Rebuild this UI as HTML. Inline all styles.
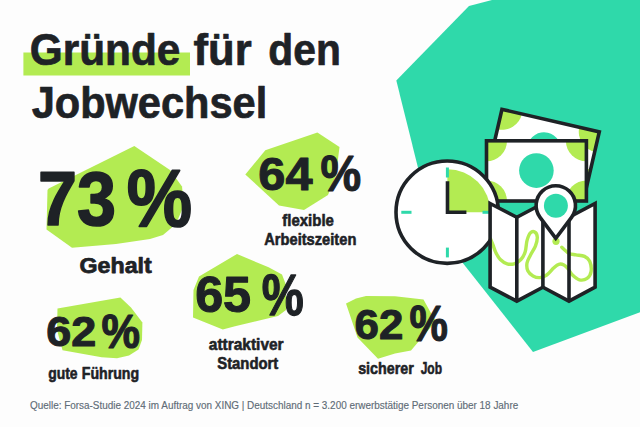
<!DOCTYPE html>
<html lang="de">
<head>
<meta charset="utf-8">
<title>Gründe für den Jobwechsel</title>
<style>
  html, body { margin: 0; padding: 0; background: #fdfdfd; }
  body { width: 640px; height: 427px; overflow: hidden; position: relative; }
  svg { position: absolute; left: 0; top: 0; display: block; }
  text { font-family: "Liberation Sans", Arial, sans-serif; font-weight: bold; fill: #1e2226; stroke: #1e2226; stroke-width: 0; stroke-linejoin: round; }
  text.foot { font-weight: normal; fill: #5f6c77; stroke: #5f6c77; }
</style>
</head>
<body>
<svg width="640" height="427" viewBox="0 0 640 427">
  <rect x="0" y="0" width="640" height="427" fill="#fdfdfd"/>
  <defs>
    <clipPath id="cbBack"><rect x="1.8" y="1.8" width="99.9" height="59"/></clipPath>
    <clipPath id="cbFront"><rect x="486.5" y="140.8" width="99.9" height="60.2"/></clipPath>
  </defs>
  <!-- teal background shape -->
  <polygon points="492,0 469,6 396.3,80.5 432,224 533,352 640,312.3 640,0" fill="#2fd9aa"/>
  <!-- title highlight -->
  <rect x="23.4" y="52.5" width="166.6" height="23" fill="#b3eb52"/>
  <!-- blobs -->
  <g fill="#b3eb52">
    <polygon points="134.3,145.9 170,170 182,186.4 184,205 176,224 163,235 150,239 116,244 72,247.7 46.5,229.4 47.5,190 48.7,188.5"/>
    <polygon points="317.4,132.4 339.5,147.1 336,175 328,195 304,210 279,205.5 245.3,174.5 265.3,150.3"/>
    <polygon points="57.5,308.4 120.4,297.4 131,307.5 142.4,322.5 142,340 138.5,349.5 129,355.5 117,358.2 101.6,357.3 62.5,350.3 57,330"/>
    <polygon points="237,254.1 268.6,267.3 282,274.5 286,285 286,310 278,316 235,326.3 222.8,329.6 193,317.4 193.5,290 199,276.6"/>
    <polygon points="346,303.5 356,298.5 366,296 395,296.3 423.5,299.5 432,315 436,321 411,350.5 395,353.5 378,358.8 357.5,337.4"/>
  </g>
  <!-- illustration -->
  <g stroke="#1e2226" stroke-width="3.6" stroke-linejoin="miter">
    <g transform="translate(500.6,107.2) rotate(13)">
      <rect x="1.8" y="1.8" width="99.9" height="59" fill="#ffffff" stroke="none"/>
      <g clip-path="url(#cbBack)" stroke="none">
        <circle cx="1.8" cy="1.8" r="20.5" fill="#b3eb52"/>
        <circle cx="101.7" cy="1.8" r="20.5" fill="#b3eb52"/>
        <circle cx="1.8" cy="60.8" r="20.5" fill="#b3eb52"/>
        <circle cx="101.7" cy="60.8" r="20.5" fill="#b3eb52"/>
        <circle cx="51.75" cy="31.3" r="17" fill="#2fd9aa"/>
      </g>
      <rect x="1.8" y="1.8" width="99.9" height="59" fill="none"/>
    </g>
    <rect x="486.5" y="140.8" width="99.9" height="60.2" fill="#ffffff" stroke="none"/>
    <g clip-path="url(#cbFront)" stroke="none">
      <circle cx="486.5" cy="140.8" r="20.5" fill="#b3eb52"/>
      <circle cx="586.4" cy="140.8" r="20.5" fill="#b3eb52"/>
      <circle cx="486.5" cy="201" r="20.5" fill="#b3eb52"/>
      <circle cx="586.4" cy="201" r="20.5" fill="#b3eb52"/>
      <circle cx="536.4" cy="170.6" r="17.3" fill="#2fd9aa"/>
    </g>
    <rect x="486.5" y="140.8" width="99.9" height="60.2" fill="none"/>
    <circle cx="447.2" cy="212.2" r="51.2" fill="#ffffff"/>
    <path d="M447.4,212.2 L447.4,169.2 A43,43 0 0 1 490.4,212.2 Z" fill="#b3eb52" stroke="none"/>
    <g stroke="#2fd9aa" stroke-width="3">
      <line x1="447.4" y1="167.5" x2="447.4" y2="177.5"/>
      <line x1="447.4" y1="247.6" x2="447.4" y2="257.4"/>
      <line x1="401.3" y1="212.3" x2="411.5" y2="212.3"/>
      <line x1="482.5" y1="212.3" x2="489" y2="212.3"/>
    </g>
    <polyline points="447.5,181.2 447.5,212.3 466.4,212.3" fill="none"/>
    <polygon points="490.1,203.5 516.8,217.3 542.9,203.5 569,217.3 595.1,203.5 595.1,287.2 569,301.2 542.9,287.2 516.8,301.2 490.1,287.2" fill="#ffffff" stroke="none"/>
    <path d="M490.5,239.0 C490.9,240.0 492.1,242.8 493.0,245.0 C493.9,247.2 494.6,250.1 495.8,252.5 C497.0,254.9 498.4,257.6 500.3,259.5 C502.2,261.4 504.9,263.1 507.2,263.8 C509.5,264.5 511.8,264.5 514.1,263.8 C516.4,263.1 519.0,261.5 520.9,259.5 C522.8,257.5 524.2,255.0 525.2,251.8 C526.2,248.7 526.1,243.8 527.0,240.6 C527.9,237.4 529.1,234.3 530.4,232.9 C531.7,231.5 533.6,231.3 534.7,232.0 C535.9,232.7 537.2,234.9 537.3,237.2 C537.4,239.5 536.6,242.8 535.5,245.8 C534.4,248.8 531.8,252.3 530.4,255.2 C529.0,258.1 527.4,260.4 527.0,263.0 C526.6,265.6 526.8,268.6 527.8,270.7 C528.8,272.8 531.0,274.8 533.0,275.9 C535.0,277.0 537.5,277.8 539.8,277.6 C542.1,277.5 544.4,276.6 546.7,275.0 C549.0,273.4 551.6,269.9 553.6,268.1 C555.6,266.3 557.0,264.8 558.8,264.3 C560.5,263.8 562.3,264.2 563.9,265.0 C565.5,265.8 566.8,267.3 568.2,269.0 C569.6,270.7 570.6,273.2 572.5,275.0 C574.4,276.8 577.0,279.2 579.4,279.8 C581.8,280.4 585.1,279.8 587.1,278.4 C589.1,277.0 590.7,274.5 591.1,271.6 C591.5,268.8 590.8,263.8 589.7,261.3 C588.6,258.8 586.8,257.5 584.5,256.4 C582.2,255.3 578.5,255.4 575.9,254.9 C573.3,254.4 571.1,254.4 569.1,253.5 C567.1,252.6 565.1,250.2 563.9,249.2 C562.7,248.1 562.1,247.5 561.8,247.2" fill="none" stroke="#b3eb52" stroke-width="3.4" stroke-linecap="round"/>
    <circle cx="556" cy="241.3" r="3.6" fill="#b3eb52" stroke="none"/>
    <g fill="none">
      <line x1="516.8" y1="217.3" x2="516.8" y2="301.2"/>
      <line x1="542.9" y1="203.5" x2="542.9" y2="287.2"/>
      <line x1="569" y1="217.3" x2="569" y2="301.2"/>
    </g>
    <polygon points="490.1,203.5 516.8,217.3 542.9,203.5 569,217.3 595.1,203.5 595.1,287.2 569,301.2 542.9,287.2 516.8,301.2 490.1,287.2" fill="none"/>
    <path d="M555.8,238.3 L540.05,217.33 A19.7,19.7 0 1 1 571.55,217.33 Z" fill="#ffffff"/>
    <circle cx="555.9" cy="205.8" r="12" fill="#2fd9aa" stroke="none"/>
  </g>

  <text id="t10" x="29.81" y="65.30" font-size="44.30" textLength="150.57" lengthAdjust="spacingAndGlyphs" style="stroke-width:0.7px">Gründe</text>
  <text id="t11" x="193.57" y="65.30" font-size="44.30" textLength="58.13" lengthAdjust="spacingAndGlyphs" style="stroke-width:0.7px">für</text>
  <text id="t12" x="268.37" y="65.30" font-size="44.30" textLength="72.46" lengthAdjust="spacingAndGlyphs" style="stroke-width:0.7px">den</text>
  <text id="t2" x="31.64" y="117.70" font-size="44.30" textLength="235.61" lengthAdjust="spacingAndGlyphs" style="stroke-width:0.7px">Jobwechsel</text>
  <text id="n73" x="37.91" y="224.54" font-size="75.10" textLength="78.07" lengthAdjust="spacingAndGlyphs" style="stroke-width:1.6px">73</text>
  <text id="p73" x="126.65" y="223.69" font-size="76.76" textLength="65.38" lengthAdjust="spacingAndGlyphs" style="stroke-width:1.6px" transform="translate(0,195.99) scale(1,1.07) translate(0,-195.99)">%</text>
  <text id="l73" x="79.53" y="272.70" font-size="22.00" textLength="72.20" lengthAdjust="spacingAndGlyphs" style="stroke-width:0.75px">Gehalt</text>
  <text id="n64" x="258.35" y="189.56" font-size="45.53" textLength="54.24" lengthAdjust="spacingAndGlyphs" style="stroke-width:1.0px">64</text>
  <text id="p64" x="320.57" y="189.76" font-size="46.11" textLength="40.60" lengthAdjust="spacingAndGlyphs" style="stroke-width:1.1px" transform="translate(0,173.11) scale(1,1.085) translate(0,-173.11)">%</text>
  <text id="l64a" x="282.30" y="226.40" font-size="16.30" textLength="51.62" lengthAdjust="spacingAndGlyphs" style="stroke-width:0.6px">flexible</text>
  <text id="l64b" x="264.21" y="245.20" font-size="16.60" textLength="92.16" lengthAdjust="spacingAndGlyphs" style="stroke-width:0.6px">Arbeitszeiten</text>
  <text id="n62a" x="46.17" y="346.27" font-size="41.94" textLength="50.01" lengthAdjust="spacingAndGlyphs" style="stroke-width:1.0px">62</text>
  <text id="p62a" x="101.59" y="346.41" font-size="44.41" textLength="38.48" lengthAdjust="spacingAndGlyphs" style="stroke-width:1.1px" transform="translate(0,330.46) scale(1,1.09) translate(0,-330.46)">%</text>
  <text id="l62a0" x="48.21" y="378.60" font-size="17.00" textLength="29.39" lengthAdjust="spacingAndGlyphs" style="stroke-width:0.6px">gute</text>
  <text id="l62a1" x="81.80" y="378.60" font-size="17.00" textLength="57.34" lengthAdjust="spacingAndGlyphs" style="stroke-width:0.6px">Führung</text>
  <text id="n65" x="195.15" y="312.31" font-size="50.46" textLength="55.95" lengthAdjust="spacingAndGlyphs" style="stroke-width:1.1px">65</text>
  <text id="p65" x="261.80" y="313.71" font-size="54.69" textLength="42.02" lengthAdjust="spacingAndGlyphs" style="stroke-width:1.2px" transform="translate(0,294.91) scale(1,1.056) translate(0,-294.91)">%</text>
  <text id="l65a" x="208.78" y="350.00" font-size="17.00" textLength="74.87" lengthAdjust="spacingAndGlyphs" style="stroke-width:0.6px">attraktiver</text>
  <text id="l65b" x="217.25" y="369.00" font-size="16.30" textLength="61.03" lengthAdjust="spacingAndGlyphs" style="stroke-width:0.6px">Standort</text>
  <text id="n62b" x="354.59" y="338.75" font-size="42.68" textLength="48.83" lengthAdjust="spacingAndGlyphs" style="stroke-width:1.0px">62</text>
  <text id="p62b" x="409.39" y="339.32" font-size="45.09" textLength="38.40" lengthAdjust="spacingAndGlyphs" style="stroke-width:1.1px" transform="translate(0,323.62) scale(1,1.1) translate(0,-323.62)">%</text>
  <text id="l62b0" x="358.16" y="373.50" font-size="17.00" textLength="55.71" lengthAdjust="spacingAndGlyphs" style="stroke-width:0.6px">sicherer</text>
  <text id="l62b1" x="420.64" y="373.50" font-size="17.00" textLength="21.37" lengthAdjust="spacingAndGlyphs" style="stroke-width:0.6px">Job</text>
  <text id="foot" class="foot" x="30.00" y="409.20" font-size="10.30" textLength="488.21" lengthAdjust="spacingAndGlyphs" style="stroke-width:0.15px">Quelle: Forsa-Studie 2024 im Auftrag von XING | Deutschland n = 3.200 erwerbstätige Personen über 18 Jahre</text>
</svg>
</body>
</html>
